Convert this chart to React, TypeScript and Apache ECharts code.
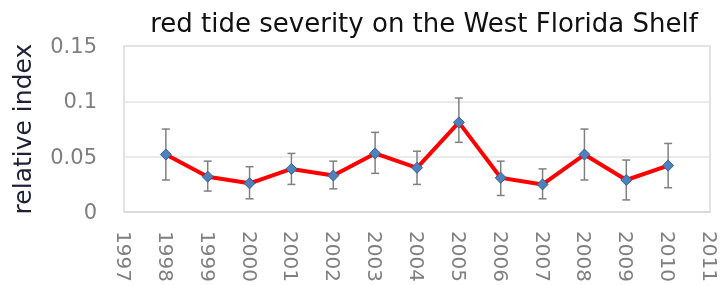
import React, { useEffect, useRef } from "react";
import * as echarts from "echarts";

const years = [1998, 1999, 2000, 2001, 2002, 2003, 2004, 2005, 2006, 2007, 2008, 2009, 2010];
const values = [0.052, 0.032, 0.026, 0.039, 0.033, 0.053, 0.040, 0.081, 0.031, 0.025, 0.052, 0.029, 0.042];
const errHigh = [0.075, 0.046, 0.041, 0.053, 0.046, 0.072, 0.055, 0.103, 0.046, 0.039, 0.075, 0.047, 0.062];
const errLow = [0.029, 0.019, 0.012, 0.025, 0.021, 0.035, 0.025, 0.063, 0.015, 0.012, 0.029, 0.011, 0.022];
const yTicks = [0, 0.05, 0.1, 0.15];
const xRange = [1997, 2011];

export default function App() {
  const ref = useRef<HTMLDivElement>(null);
  useEffect(() => {
    if (!ref.current) return;
    const chart = echarts.init(ref.current, null, { renderer: "svg" });
    const font = "'DejaVu Sans', sans-serif";
    chart.setOption({
      animation: false,
      title: {
        text: "red tide severity on the West Florida Shelf",
        left: 419,
        top: 5,
        textAlign: "center",
        textStyle: { fontFamily: font, fontSize: 26, fontWeight: "normal", color: "#111" },
      },
      grid: {
        left: 124,
        right: 12,
        top: 46,
        bottom: 72,
        show: true,
        borderColor: "#d9d9d9",
        borderWidth: 1.5,
      },
      xAxis: {
        type: "value",
        min: xRange[0],
        max: xRange[1],
        interval: 1,
        axisLine: { show: true, lineStyle: { color: "#d9d9d9", width: 1.5 } },
        axisTick: { show: false },
        splitLine: { show: false },
        axisLabel: {
          rotate: -90,
          margin: 19,
          color: "#7f7f7f",
          fontSize: 20,
          fontFamily: font,
          formatter: (v: number) => String(v),
        },
      },
      yAxis: {
        type: "value",
        min: yTicks[0],
        max: yTicks[yTicks.length - 1],
        interval: 0.05,
        name: "relative index",
        nameLocation: "middle",
        nameGap: 89,
        nameTextStyle: { fontSize: 25, color: "#1f1f3a", fontFamily: font },
        axisLine: { show: false },
        axisTick: { show: false },
        splitLine: { lineStyle: { color: "#e3e3e3", width: 1.5 } },
        axisLabel: {
          color: "#7f7f7f",
          fontSize: 21,
          margin: 27,
          fontFamily: font,
        },
      },
      series: [
        {
          type: "custom",
          z: 1,
          data: years.map((y, i) => [y, errLow[i], errHigh[i]]),
          renderItem: (params: any, api: any) => {
            const x = api.value(0);
            const lo = api.coord([x, api.value(1)]);
            const hi = api.coord([x, api.value(2)]);
            const w = 4;
            const style = { stroke: "#808080", lineWidth: 1.5 };
            return {
              type: "group",
              children: [
                { type: "line", shape: { x1: lo[0], y1: lo[1], x2: hi[0], y2: hi[1] }, style },
                { type: "line", shape: { x1: hi[0] - w, y1: hi[1], x2: hi[0] + w, y2: hi[1] }, style },
                { type: "line", shape: { x1: lo[0] - w, y1: lo[1], x2: lo[0] + w, y2: lo[1] }, style },
              ],
            };
          },
        },
        {
          type: "line",
          z: 3,
          data: years.map((y, i) => [y, values[i]]),
          symbol: "diamond",
          symbolSize: 11,
          showAllSymbol: true,
          lineStyle: { color: "#ff0000", width: 4 },
          itemStyle: { color: "#4f81bd", borderColor: "#385d8a", borderWidth: 1 },
        },
      ],
    });
    return () => chart.dispose();
  }, []);
  return <div ref={ref} style={{ position: "fixed", left: 0, top: 0, width: 722, height: 285 }} />;
}
